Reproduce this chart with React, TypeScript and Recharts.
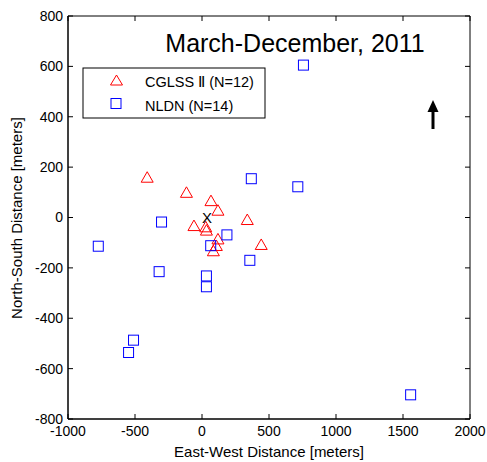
import React from 'react';
import { ScatterChart, Scatter, XAxis, YAxis } from 'recharts';

const cglssX = [-409, -116, 67, 119, 338, -60, 28, 33, 119, 107, 85, 442];
const cglssY = [158, 98, 65, 27, -10, -34, -39, -52, -87, -113, -134, -109];
const nldnX = [368, 715, -302, 186, 65, 357, -320, 33, 33, -774, -511, -548, 757, 1557];
const nldnY = [154, 122, -18, -69, -112, -170, -215, -232, -275, -114, -487, -536, 605, -704];
const xTicks = [-1000, -500, 0, 500, 1000, 1500, 2000];
const yTicks = [-800, -600, -400, -200, 0, 200, 400, 600, 800];

const FONT = '"Liberation Sans", Arial, Helvetica, sans-serif';
const W = 487;
const H = 462;
// plot box (matches the chart margins / axis sizes below)
const L = 68;
const T = 16;
const R = W - 17;
const B = H - 43;

const cglss = cglssX.map((x, i) => ({ x, y: cglssY[i] }));
const nldn = nldnX.map((x, i) => ({ x, y: nldnY[i] }));
const origin = [{ x: 0, y: 0 }];

const px = (v: number) => L + ((v + 1000) / 3000) * (R - L);
const py = (v: number) => T + ((800 - v) / 1600) * (B - T);

const Triangle = (props: any) => {
  const { cx, cy } = props;
  return (
    <path d={`M${cx},${cy - 6} L${cx + 6},${cy + 4.5} L${cx - 6},${cy + 4.5} Z`} fill="none" stroke="#ff0000" strokeWidth={1} />
  );
};

const Square = (props: any) => {
  const { cx, cy } = props;
  return <rect x={cx - 5} y={cy - 5} width={10} height={10} fill="none" stroke="#0000ff" strokeWidth={1} />;
};

const XMark = (props: any) => {
  const { cx, cy } = props;
  return (
    <text x={cx + 5} y={cy + 5} textAnchor="middle" fontSize={15} fontFamily={FONT} fill="#000">
      X
    </text>
  );
};

const BottomTick = (props: any) => {
  const { x, y, payload } = props;
  return (
    <g>
      <line x1={x} y1={y} x2={x} y2={y - 5} stroke="#000" />
      <text x={x} y={y + 17} textAnchor="middle" fontSize={14} fontFamily={FONT} fill="#000">
        {payload.value}
      </text>
    </g>
  );
};

export default function App() {
  return (
    <div style={{ position: 'absolute', left: 0, top: 0, width: W, height: H, background: '#fff' }}>
      <ScatterChart width={W} height={H} margin={{ top: T, right: W - R, bottom: 0, left: 0 }}>
        <XAxis
          dataKey="x"
          type="number"
          domain={[-1000, 2000]}
          ticks={xTicks}
          height={H - B}
          tickSize={0}
          tickMargin={0}
          stroke="#000"
          tick={<BottomTick />}
          interval={0}
        />
        <YAxis
          dataKey="y"
          type="number"
          domain={[-800, 800]}
          ticks={yTicks}
          width={L}
          tickSize={-5}
          tickMargin={10}
          stroke="#000"
          tick={{ fill: '#000', fontSize: 14, fontFamily: FONT }}
          interval={0}
        />
        <Scatter data={cglss} shape={<Triangle />} isAnimationActive={false} />
        <Scatter data={nldn} shape={<Square />} isAnimationActive={false} />
        <Scatter data={origin} shape={<XMark />} isAnimationActive={false} />
      </ScatterChart>
      <svg
        width={W}
        height={H}
        style={{ position: 'absolute', left: 0, top: 0, pointerEvents: 'none' }}
        fontFamily={FONT}
      >
        {/* top and right edges of the box with inward ticks */}
        <line x1={L} y1={T} x2={R} y2={T} stroke="#000" />
        <line x1={R} y1={T} x2={R} y2={B} stroke="#000" />
        <line x1={L} y1={B} x2={R} y2={B} stroke="#000" />
        <line x1={L} y1={T} x2={L} y2={B} stroke="#000" />
        {xTicks.map((v) => (
          <line key={`xt${v}`} x1={px(v)} y1={T} x2={px(v)} y2={T + 5} stroke="#000" />
        ))}
        {yTicks.map((v) => (
          <line key={`yt${v}`} x1={R} y1={py(v)} x2={R - 5} y2={py(v)} stroke="#000" />
        ))}
        <text x={295} y={52} textAnchor="middle" fontSize={25} fill="#000">
          March-December, 2011
        </text>
        <rect x={83} y={68} width={182} height={50} fill="#fff" stroke="#000" strokeWidth={1} />
        <path d="M116.5,75 L122.5,85 L110.5,85 Z" fill="none" stroke="#ff0000" />
        <text x={145} y={86.5} fontSize={14.5} fill="#000">CGLSS Ⅱ (N=12)</text>
        <rect x={111} y={98.5} width={10} height={10} fill="none" stroke="#0000ff" />
        <text x={145} y={111} fontSize={14.5} fill="#000">NLDN (N=14)</text>
        <line x1={433} y1={129} x2={433} y2={110} stroke="#000" strokeWidth={3} />
        <path d="M427.5,112 L433,100 L438.5,112 Z" fill="#000" />
        <text x={269} y={457} textAnchor="middle" fontSize={15} fill="#000">
          East-West Distance [meters]
        </text>
        <text x={22} y={218} textAnchor="middle" fontSize={15} fill="#000" transform="rotate(-90 22 218)">
          North-South Distance [meters]
        </text>
      </svg>
    </div>
  );
}
